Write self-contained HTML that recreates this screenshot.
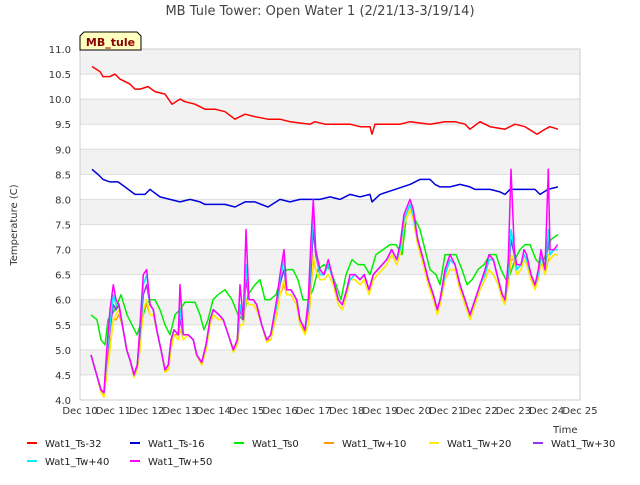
<!DOCTYPE html>
<html><head><meta charset="utf-8"><style>
body{margin:0;background:#fff;font-family:"Liberation Sans","DejaVu Sans",sans-serif}
svg text{font-family:"DejaVu Sans","Liberation Sans",sans-serif}
</style></head><body>
<svg id="c" width="640" height="480">
<g id="grid"></g><g id="series"></g><g id="axes"></g><g id="legend"></g>
<text x="320" y="15" text-anchor="middle" font-size="13" fill="#444">MB Tule Tower: Open Water 1 (2/21/13-3/19/14)</text>
<text transform="translate(17,225) rotate(-90)" text-anchor="middle" font-size="10" fill="#333">Temperature (C)</text>
<text x="553" y="433" font-size="10" fill="#333">Time</text>
<g>
<path d="M80,50 L80,36 L84,32 L137,32 L141,36 L141,50 Z" fill="#ffffc0" stroke="#000" stroke-width="1"/>
<text x="110.5" y="46" text-anchor="middle" font-size="11" font-weight="bold" fill="#8b0000">MB_tule</text>
</g>
</svg>
<script>
const yTicks=[4.0,4.5,5.0,5.5,6.0,6.5,7.0,7.5,8.0,8.5,9.0,9.5,10.0,10.5,11.0];
const xTickLabels=["Dec 10","Dec 11","Dec 12","Dec 13","Dec 14","Dec 15","Dec 16","Dec 17","Dec 18","Dec 19","Dec 20","Dec 21","Dec 22","Dec 23","Dec 24","Dec 25"];
const tsT=[0.36,0.6,0.69,0.9,1.05,1.2,1.5,1.65,1.8,2.04,2.25,2.55,2.76,3.0,3.15,3.45,3.75,4.05,4.35,4.65,4.95,5.25,5.64,6.0,6.3,6.9,7.05,7.35,7.8,8.1,8.4,8.7,8.76,8.85,9.3,9.6,9.9,10.5,10.95,11.25,11.55,11.7,12.0,12.3,12.75,13.05,13.35,13.71,13.95,14.1,14.34];
const ts32=[10.65,10.55,10.45,10.45,10.5,10.4,10.3,10.2,10.2,10.25,10.15,10.1,9.9,10.0,9.95,9.9,9.8,9.8,9.75,9.6,9.7,9.65,9.6,9.6,9.55,9.5,9.55,9.5,9.5,9.5,9.45,9.45,9.3,9.5,9.5,9.5,9.55,9.5,9.55,9.55,9.5,9.4,9.55,9.45,9.4,9.5,9.45,9.3,9.4,9.45,9.4];
const ts16T=[0.36,0.54,0.69,0.9,1.14,1.35,1.65,1.95,2.1,2.4,2.7,3.0,3.3,3.6,3.75,4.05,4.35,4.65,4.95,5.25,5.64,6.0,6.3,6.6,6.99,7.2,7.5,7.8,8.1,8.4,8.7,8.76,9.0,9.45,9.9,10.2,10.5,10.65,10.8,11.1,11.4,11.7,11.85,12.3,12.6,12.75,12.9,13.2,13.65,13.8,14.04,14.34];
const ts16=[8.6,8.5,8.4,8.35,8.35,8.25,8.1,8.1,8.2,8.05,8.0,7.95,8.0,7.95,7.9,7.9,7.9,7.85,7.95,7.95,7.85,8.0,7.95,8.0,8.0,8.0,8.05,8.0,8.1,8.05,8.1,7.95,8.1,8.2,8.3,8.4,8.4,8.3,8.25,8.25,8.3,8.25,8.2,8.2,8.15,8.1,8.2,8.2,8.2,8.1,8.2,8.25];
const ts0T=[0.33,0.51,0.63,0.75,0.84,1.05,1.23,1.41,1.56,1.71,1.86,1.98,2.1,2.25,2.4,2.55,2.7,2.85,3.0,3.15,3.3,3.45,3.6,3.72,3.84,3.99,4.14,4.35,4.56,4.74,4.89,5.04,5.25,5.4,5.55,5.7,5.88,6.06,6.21,6.39,6.54,6.69,6.84,6.99,7.14,7.32,7.5,7.68,7.83,7.98,8.16,8.34,8.52,8.7,8.88,9.09,9.3,9.48,9.66,9.78,9.9,10.05,10.2,10.35,10.5,10.68,10.8,10.95,11.1,11.28,11.46,11.61,11.76,11.94,12.12,12.3,12.48,12.63,12.78,12.9,13.05,13.2,13.35,13.5,13.68,13.83,13.98,14.13,14.34];
const ts0=[5.7,5.6,5.2,5.1,5.6,5.8,6.1,5.7,5.5,5.3,5.6,5.9,6.0,6.0,5.8,5.5,5.3,5.7,5.8,5.95,5.95,5.95,5.7,5.4,5.6,6.0,6.1,6.2,6.0,5.7,5.6,6.1,6.3,6.4,6.0,6.0,6.1,6.5,6.6,6.6,6.4,6.0,6.0,6.2,6.6,6.7,6.6,6.3,6.0,6.5,6.8,6.7,6.7,6.5,6.9,7.0,7.1,7.1,6.9,7.6,7.8,7.6,7.4,7.0,6.6,6.5,6.3,6.9,6.9,6.9,6.6,6.3,6.4,6.6,6.7,6.9,6.9,6.6,6.4,6.5,6.8,7.0,7.1,7.1,6.8,6.7,6.9,7.2,7.3];
const twT=[0.33,0.5,0.63,0.72,0.8,0.9,1.0,1.08,1.17,1.27,1.4,1.5,1.62,1.72,1.8,1.9,2.0,2.1,2.2,2.3,2.43,2.55,2.65,2.73,2.82,2.95,3.0,3.1,3.25,3.4,3.5,3.65,3.78,3.9,4.0,4.17,4.3,4.45,4.6,4.72,4.8,4.9,4.98,5.07,5.2,5.3,5.45,5.6,5.72,5.9,6.0,6.12,6.2,6.33,6.5,6.6,6.75,6.85,6.93,7.0,7.07,7.2,7.32,7.45,7.6,7.75,7.87,8.0,8.1,8.25,8.4,8.53,8.67,8.8,8.93,9.07,9.2,9.35,9.5,9.6,9.72,9.9,10.0,10.13,10.3,10.45,10.6,10.72,10.8,10.95,11.1,11.25,11.4,11.55,11.7,11.85,12.0,12.15,12.27,12.4,12.55,12.67,12.75,12.85,12.93,13.03,13.1,13.23,13.32,13.4,13.53,13.65,13.75,13.83,13.95,14.05,14.1,14.22,14.33];
const tw50=[4.9,4.5,4.2,4.15,5.0,5.8,6.3,6.0,5.9,5.5,5.0,4.8,4.5,4.7,5.5,6.5,6.6,5.9,5.8,5.4,5.0,4.6,4.7,5.2,5.4,5.3,6.3,5.3,5.3,5.2,4.9,4.75,5.1,5.6,5.8,5.7,5.6,5.3,5.0,5.2,6.3,5.6,7.4,6.0,6.0,5.9,5.5,5.2,5.3,6.0,6.5,7.0,6.2,6.2,6.0,5.6,5.4,6.0,7.2,8.0,7.0,6.6,6.5,6.8,6.4,6.0,5.9,6.2,6.5,6.5,6.4,6.5,6.2,6.5,6.6,6.7,6.8,7.0,6.8,7.1,7.7,8.0,7.8,7.2,6.8,6.4,6.1,5.8,6.0,6.6,6.9,6.7,6.3,6.0,5.7,6.0,6.3,6.6,6.9,6.8,6.4,6.1,6.0,6.8,8.6,7.0,6.7,6.7,7.0,6.9,6.5,6.3,6.6,7.0,6.6,8.6,7.0,7.0,7.1];
const tw40=[4.9,4.5,4.2,4.15,4.9,5.5,6.1,5.9,5.9,5.5,5.0,4.8,4.5,4.7,5.4,6.3,6.5,5.9,5.8,5.4,5.0,4.6,4.7,5.2,5.4,5.3,5.8,5.3,5.3,5.2,4.9,4.75,5.1,5.6,5.8,5.7,5.6,5.3,5.0,5.2,5.9,5.6,6.7,6.0,6.0,5.9,5.5,5.2,5.3,5.9,6.4,6.8,6.2,6.2,6.0,5.6,5.4,5.9,6.9,7.7,7.0,6.5,6.5,6.7,6.4,6.0,5.9,6.2,6.4,6.5,6.4,6.5,6.2,6.5,6.6,6.7,6.8,7.0,6.8,7.0,7.6,7.9,7.7,7.2,6.8,6.4,6.1,5.8,6.0,6.5,6.8,6.7,6.3,6.0,5.7,6.0,6.3,6.5,6.8,6.8,6.4,6.1,6.0,6.6,7.4,7.0,6.6,6.7,6.9,6.8,6.5,6.3,6.5,6.9,6.6,7.4,6.9,7.0,7.0];
const tw30=[4.9,4.5,4.2,4.15,4.8,5.4,5.9,5.8,5.9,5.5,5.0,4.8,4.5,4.7,5.3,6.1,6.3,5.9,5.8,5.4,5.0,4.6,4.7,5.2,5.4,5.3,5.6,5.3,5.3,5.2,4.9,4.75,5.1,5.6,5.8,5.7,5.6,5.3,5.0,5.2,5.8,5.6,6.4,6.0,6.0,5.9,5.5,5.2,5.3,5.9,6.3,6.6,6.2,6.2,6.0,5.6,5.4,5.8,6.6,7.4,6.9,6.5,6.5,6.7,6.4,6.0,5.9,6.2,6.4,6.5,6.4,6.5,6.2,6.5,6.6,6.7,6.8,7.0,6.8,7.0,7.6,7.9,7.7,7.2,6.8,6.4,6.1,5.8,6.0,6.5,6.8,6.7,6.3,6.0,5.7,6.0,6.3,6.5,6.8,6.8,6.4,6.1,6.0,6.5,7.2,6.9,6.6,6.7,6.9,6.8,6.5,6.3,6.5,6.9,6.6,7.2,6.9,7.0,7.0];
const tw20=[4.9,4.5,4.15,4.05,4.5,5.0,5.6,5.7,5.8,5.5,5.0,4.8,4.45,4.6,5.0,5.8,6.0,5.7,5.7,5.4,5.0,4.55,4.6,5.0,5.3,5.2,5.4,5.2,5.3,5.2,4.9,4.7,5.0,5.5,5.7,5.6,5.6,5.3,4.95,5.1,5.5,5.5,6.0,5.9,5.9,5.8,5.5,5.15,5.2,5.7,6.1,6.4,6.1,6.1,5.9,5.5,5.3,5.5,6.3,6.9,6.6,6.4,6.4,6.5,6.3,5.9,5.8,6.1,6.4,6.4,6.3,6.4,6.1,6.4,6.5,6.6,6.7,6.9,6.7,6.9,7.5,7.8,7.6,7.1,6.7,6.3,6.0,5.7,5.9,6.4,6.6,6.6,6.2,5.9,5.6,5.9,6.2,6.4,6.6,6.5,6.3,6.0,5.9,6.3,6.9,6.8,6.5,6.6,6.8,6.7,6.4,6.2,6.4,6.8,6.5,6.9,6.8,6.9,6.9];
const tw10=[4.9,4.5,4.15,4.1,4.6,5.1,5.6,5.6,5.7,5.5,5.0,4.8,4.5,4.6,5.1,5.8,5.9,5.7,5.7,5.4,5.0,4.6,4.6,5.1,5.3,5.3,5.4,5.3,5.3,5.2,4.9,4.7,5.0,5.5,5.7,5.6,5.6,5.3,5.0,5.1,5.5,5.5,6.0,5.9,5.9,5.8,5.5,5.2,5.2,5.7,6.1,6.3,6.1,6.1,5.9,5.5,5.35,5.5,6.2,6.8,6.6,6.4,6.4,6.5,6.3,5.9,5.8,6.1,6.4,6.4,6.3,6.4,6.1,6.4,6.5,6.6,6.7,6.9,6.7,6.9,7.5,7.8,7.6,7.1,6.7,6.3,6.0,5.75,5.9,6.4,6.6,6.6,6.2,5.9,5.65,5.9,6.2,6.4,6.6,6.5,6.3,6.0,5.95,6.3,6.8,6.8,6.5,6.6,6.8,6.7,6.4,6.25,6.4,6.8,6.5,6.8,6.8,6.9,6.9];

const L=80,R=580,T=49,B=400;
const xs=d=>L+(d/15)*(R-L);
const ys=v=>B-(v-4)/7*(B-T);
const NS="http://www.w3.org/2000/svg";
function mk(tag,attrs,parent){const e=document.createElementNS(NS,tag);for(const k in attrs)e.setAttribute(k,attrs[k]);parent.appendChild(e);return e;}
const grid=document.getElementById('grid'),axes=document.getElementById('axes'),ser=document.getElementById('series'),leg=document.getElementById('legend');
const bg=mk('rect',{x:L,y:T,width:R-L,height:B-T,fill:'#fff'},grid);


for(let i=0;i<yTicks.length-1;i++){
  if(i%2===1){const b=mk('rect',{x:L,y:ys(yTicks[i+1]),width:R-L,height:ys(yTicks[i])-ys(yTicks[i+1]),fill:'#f2f2f2'},grid);
  
  }
}
yTicks.forEach(v=>{
  const l=mk('line',{x1:L,x2:R,y1:ys(v),y2:ys(v),stroke:'#ddd','stroke-width':1},grid);
  
  
  const t=mk('text',{x:L-9,y:ys(v)+4,'text-anchor':'end','font-size':10,fill:'#333'},axes);
  t.textContent=v.toFixed(1);
  
  
});
xTickLabels.forEach((s,i)=>{
  const t=mk('text',{x:xs(i),y:B+14,'text-anchor':'middle','font-size':10,fill:'#333'},axes);
  t.textContent=s;
  
  
});
const border=mk('rect',{x:L,y:T,width:R-L,height:B-T,fill:'none',stroke:'#ccc'},axes);


const series=[
 {n:'Wat1_Ts-32',c:'#ff0000',t:tsT,v:ts32},
 {n:'Wat1_Ts-16',c:'#0000dd',t:ts16T,v:ts16},
 {n:'Wat1_Ts0',c:'#00ee00',t:ts0T,v:ts0},
 {n:'Wat1_Tw+10',c:'#ff9900',t:twT,v:tw10},
 {n:'Wat1_Tw+20',c:'#ffee00',t:twT,v:tw20},
 {n:'Wat1_Tw+30',c:'#9933ee',t:twT,v:tw30},
 {n:'Wat1_Tw+40',c:'#00eeff',t:twT,v:tw40},
 {n:'Wat1_Tw+50',c:'#ff00ff',t:twT,v:tw50}];
series.forEach(s=>{
  const d=s.t.map((t,i)=>(i?'L':'M')+xs(t).toFixed(1)+','+ys(s.v[i]).toFixed(1)).join(' ');
  const p=mk('path',{d:d,fill:'none',stroke:s.c,'stroke-width':1.5,'stroke-linejoin':'round'},ser);
  
  
});
const lx=[27,130,234,324,429,533,27,130],ly=[443,443,443,443,443,443,461,461];
series.forEach((s,i)=>{
  const g=mk('g',{},leg);
  
  
  mk('line',{x1:lx[i],x2:lx[i]+10,y1:ly[i],y2:ly[i],stroke:s.c,'stroke-width':2},g);
  const t=mk('text',{x:lx[i]+18,y:ly[i]+4,'font-size':10,fill:'#222'},g);
  t.textContent=s.n;
});
</script>
</body></html>
